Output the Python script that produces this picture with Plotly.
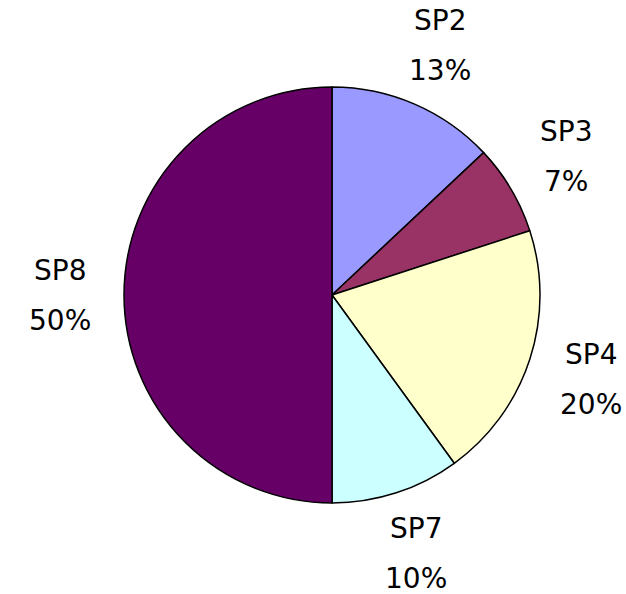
import math
import plotly.graph_objects as go

labels = ["SP2", "SP3", "SP4", "SP7", "SP8"]
values = [13, 7, 20, 10, 50]
colors = ["#9999FF", "#993366", "#FFFFCC", "#CCFFFF", "#660066"]

W, H = 626, 594
cx, cy, r = 332, 295, 208  # pie centre and radius in pixels
label_r = 272

fig = go.Figure(go.Pie(
    labels=labels, values=values, sort=False, direction="clockwise", rotation=0,
    marker=dict(colors=colors, line=dict(color="black", width=1.5)),
    textinfo="none", hoverinfo="label+percent",
    domain=dict(x=[(cx - r) / W, (cx + r) / W], y=[(H - cy - r) / H, (H - cy + r) / H]),
    showlegend=False,
))

total = sum(values)
cum = 0
anns = []
for lab, v in zip(labels, values):
    mid = (cum + v / 2) / total * 2 * math.pi
    cum += v
    x = cx + label_r * math.sin(mid)
    y = cy - label_r * math.cos(mid)
    pct = f"{round(v / total * 100)}%"
    for txt, shift in ((lab, 25), (pct, -25)):
        anns.append(dict(x=x / W, y=1 - y / H, xref="paper", yref="paper", text=txt,
                         showarrow=False, yshift=shift, xanchor="center", yanchor="middle",
                         font=dict(family="DejaVu Sans", size=28, color="black")))

fig.update_layout(width=W, height=H, margin=dict(l=0, r=0, t=0, b=0),
                  paper_bgcolor="white", plot_bgcolor="white", annotations=anns)
fig.write_html("out.html", config={"displayModeBar": False},
               post_script="document.body.style.margin='0';document.body.style.overflow='hidden';")
